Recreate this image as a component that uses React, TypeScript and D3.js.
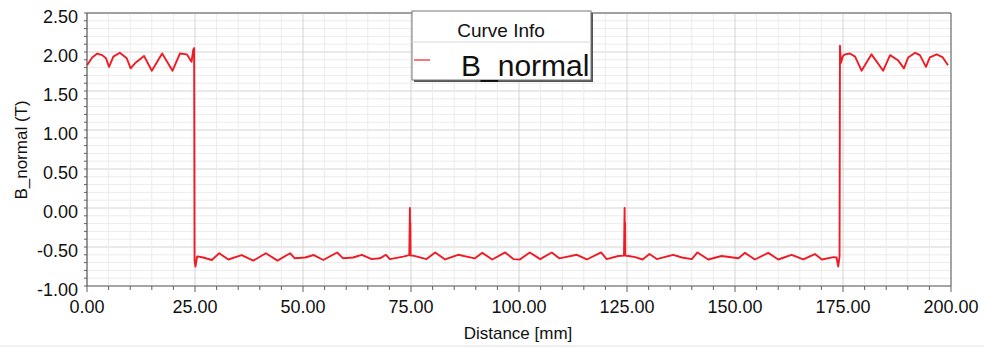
import React from 'react';
import * as d3 from 'd3';

// curve samples (mm, tesla)
const distance = [
  0.0, 1.2, 2.4, 3.5, 4.4, 5.1, 6.1, 7.6, 9.2, 10.1, 11.1, 13.2, 15.0, 17.4, 19.8, 21.5, 23.1, 24.2, 24.6, 24.8,
  24.9, 25.1, 25.5, 26.9, 28.9, 30.6, 32.7, 35.8, 38.5, 41.4, 44.1, 47.0, 48.1, 50.5, 52.5, 54.7, 57.9, 59.3,
  61.6, 63.6, 65.9, 67.8, 69.2, 70.1, 73.2, 74.6, 74.75, 74.8, 74.85, 74.9, 75.5, 78.6, 80.6, 82.9, 85.9, 89.8,
  91.5, 93.8, 96.8, 98.7, 100.2, 102.5, 104.9, 107.6, 109.3, 113.4, 115.7, 119.0, 120.3, 123.0, 124.3, 124.45,
  124.5, 124.55, 124.6, 125.3, 126.9, 128.6, 130.2, 131.9, 135.7, 137.7, 140.0, 141.3, 143.8, 146.9, 150.8,
  152.3, 154.6, 157.7, 160.0, 163.1, 165.8, 168.5, 170.1, 172.8, 173.5, 173.9, 174.2, 174.3, 174.5, 175.0,
  175.5, 176.6, 177.8, 179.3, 181.6, 184.3, 185.9, 187.8, 189.1, 190.1, 191.7, 192.8, 194.2, 195.1, 196.7,
  198.1, 199.3,
];
const bNormal = [
  1.83, 1.93, 1.98, 1.96, 1.92, 1.81, 1.94, 1.99, 1.92, 1.79, 1.855, 1.95, 1.76, 1.98, 1.76, 1.98, 1.97, 1.875, 2.03, 2.05,
  -0.67, -0.75, -0.62, -0.635, -0.667, -0.58, -0.66, -0.603, -0.675, -0.58, -0.675, -0.58, -0.645, -0.635, -0.603, -0.667, -0.57, -0.645,
  -0.635, -0.6, -0.655, -0.645, -0.6, -0.655, -0.624, -0.605, 0.0, -0.6, -0.19, -0.61, -0.61, -0.655, -0.57, -0.66, -0.6, -0.645,
  -0.575, -0.66, -0.57, -0.655, -0.66, -0.57, -0.655, -0.57, -0.645, -0.6, -0.66, -0.57, -0.655, -0.615, -0.61, 0.0,
  -0.6, -0.19, -0.61, -0.615, -0.63, -0.66, -0.59, -0.655, -0.6, -0.635, -0.655, -0.57, -0.66, -0.615, -0.645,
  -0.575, -0.66, -0.575, -0.66, -0.6, -0.66, -0.59, -0.66, -0.63, -0.635, -0.75, -0.62, 2.08, 1.86, 1.95,
  1.97, 1.98, 1.94, 1.76, 1.97, 1.76, 1.96, 1.89, 1.79, 1.93, 1.99, 1.96, 1.81, 1.93, 1.97,
  1.93, 1.83,
];

const xTicks = [0, 25, 50, 75, 100, 125, 150, 175, 200];
const yTicks = [-1, -0.5, 0, 0.5, 1, 1.5, 2, 2.5];
const seriesName = 'B_normal';

const W = 984;
const H = 347;
const left = 87, right = 951, top = 13, bottom = 286;
const font = '"Liberation Sans", Arial, sans-serif';

export default function App() {
  const x = d3.scaleLinear().domain([0, 200]).range([left, right]);
  const y = d3.scaleLinear().domain([-1, 2.5]).range([bottom, top]);

  const minorX = d3.range(0, 201, 5);
  const minorY = d3.range(-10, 26).map(v => v / 10);

  const pts: [number, number][] = distance.map((d, i) => [d, bNormal[i]]);
  const path = d3.line<[number, number]>().x(d => x(d[0])).y(d => y(d[1]))(pts) || '';

  return (
    <svg width={W} height={H} style={{ position: 'absolute', left: 0, top: 0, background: '#fff' }}>
      <rect x={0} y={0} width={W} height={H} fill="#fff" />
      {/* grid */}
      {minorY.map(v => (
        <line key={'gy' + v} x1={left} x2={right} y1={y(v)} y2={y(v)}
          stroke={Math.abs(v * 2 - Math.round(v * 2)) < 1e-6 ? '#d4d4d4' : '#ececec'} strokeWidth={1} />
      ))}
      {minorX.map(v => (
        <line key={'gx' + v} x1={x(v)} x2={x(v)} y1={top} y2={bottom}
          stroke={v % 25 === 0 ? '#d4d4d4' : '#ececec'} strokeWidth={1} />
      ))}
      {/* frame */}
      <line x1={left} x2={right} y1={top} y2={top} stroke="#a0a0a0" strokeWidth={2} />
      <line x1={right} x2={right} y1={top} y2={bottom} stroke="#606060" strokeWidth={1} />
      <line x1={left} x2={left} y1={top} y2={bottom} stroke="#606060" strokeWidth={1.2} />
      <line x1={left} x2={right} y1={bottom} y2={bottom} stroke="#606060" strokeWidth={1.2} />
      {/* ticks */}
      {minorY.map(v => (
        <line key={'ty' + v} x1={left - 3} x2={left} y1={y(v)} y2={y(v)} stroke="#606060" strokeWidth={1} />
      ))}
      {minorX.map(v => (
        <line key={'tx' + v} x1={x(v)} x2={x(v)} y1={bottom} y2={bottom + (v % 25 === 0 ? 6 : 4)} stroke="#606060" strokeWidth={1} />
      ))}
      {yTicks.map(v => (
        <text key={'ly' + v} x={left - 9} y={y(v) + 10} textAnchor="end" fontFamily={font} fontSize={18} fill="#111">
          {v.toFixed(2)}
        </text>
      ))}
      {xTicks.map(v => (
        <text key={'lx' + v} x={x(v)} y={313} textAnchor="middle" fontFamily={font} fontSize={18} fill="#111">
          {v.toFixed(2)}
        </text>
      ))}
      <text x={518} y={339} textAnchor="middle" fontFamily={font} fontSize={17} fill="#111">Distance [mm]</text>
      <text transform="translate(27,150) rotate(-90)" textAnchor="middle" fontFamily={font} fontSize={17} fill="#111">
        B_normal (T)
      </text>
      {/* curve */}
      <path d={path} fill="none" stroke="#ee1c25" strokeWidth={1.9} strokeLinejoin="round" />
      {/* legend */}
      <rect x={414} y={13} width={179} height={69} fill="#555" />
      <rect x={412} y={11} width={179} height={69} fill="#fff" stroke="#777" strokeWidth={1} />
      <line x1={412} x2={591} y1={42} y2={42} stroke="#d8d8d8" strokeWidth={1} />
      <text x={501} y={37} textAnchor="middle" fontFamily={font} fontSize={19} fill="#111">Curve Info</text>
      <line x1={414} x2={430} y1={60} y2={60} stroke="#ee1c25" strokeWidth={1.2} />
      <text x={461} y={76} fontFamily={font} fontSize={30} fill="#111">{seriesName}</text>
      <line x1={0} x2={W} y1={346} y2={346} stroke="#e4e4e4" strokeWidth={1} />
    </svg>
  );
}
